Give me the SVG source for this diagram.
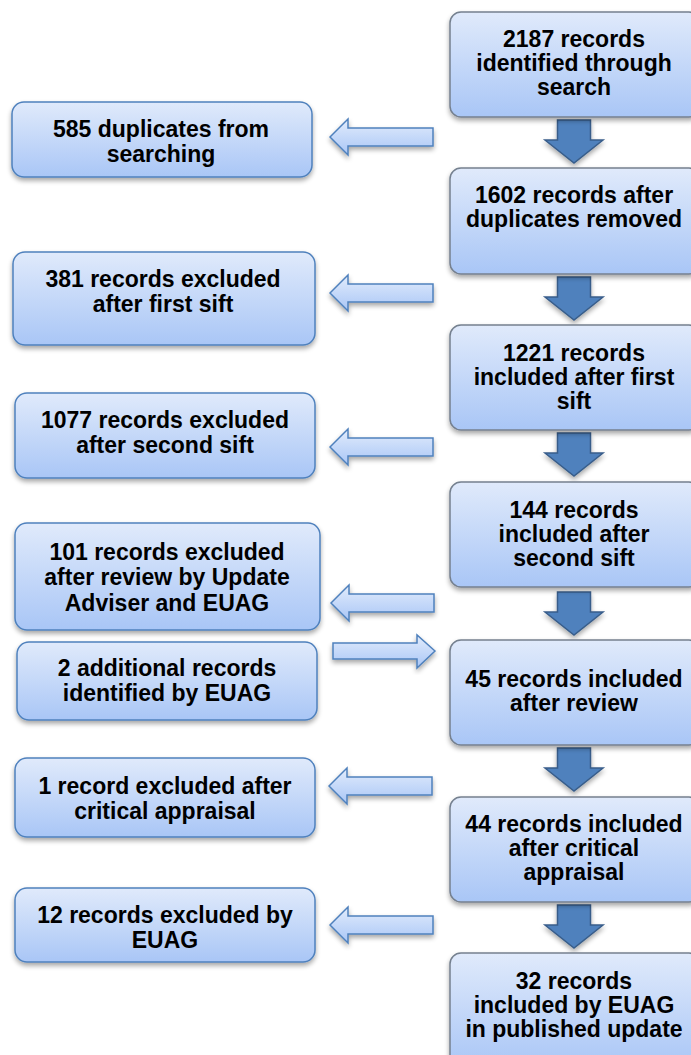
<svg xmlns="http://www.w3.org/2000/svg" width="691" height="1055" viewBox="0 0 691 1055">
<defs>
<linearGradient id="gbox" x1="0" y1="0" x2="0" y2="1">
<stop offset="0" stop-color="#e0eafb"/>
<stop offset="1" stop-color="#a9c6f6"/>
</linearGradient>
<linearGradient id="garrow" x1="0" y1="0" x2="0" y2="1">
<stop offset="0" stop-color="#e2ecfc"/>
<stop offset="1" stop-color="#a9c6f6"/>
</linearGradient>
<filter id="sh" x="-10%" y="-10%" width="120%" height="130%">
<feGaussianBlur in="SourceAlpha" stdDeviation="2.5"/>
<feOffset dx="0" dy="3" result="b"/>
<feComponentTransfer><feFuncA type="linear" slope="0.35"/></feComponentTransfer>
<feMerge><feMergeNode/><feMergeNode in="SourceGraphic"/></feMerge>
</filter>
<path id="larrow" d="M0,0 L18,-18 L18,-9 L103,-9 L103,9 L18,9 L18,18 Z"/>
<path id="darrow" d="M-16.5,0 L16.5,0 L16.5,20 L29,20 L0,43 L-29,20 L-16.5,20 Z"/>
</defs>
<style>
.rb{fill:url(#gbox);stroke:#75808f;stroke-width:1.5;filter:url(#sh)}
.lb{fill:url(#gbox);stroke:#4f81bd;stroke-width:1.5;filter:url(#sh)}
.t{font-family:"Liberation Sans",Arial,sans-serif;font-weight:bold;font-size:23px;fill:#000;text-anchor:middle}
.la{fill:url(#garrow);stroke:#4f81bd;stroke-width:1.5;filter:url(#sh)}
.da{fill:#4f81bd;stroke:#385d8a;stroke-width:1.5;filter:url(#sh)}
</style>
<rect width="691" height="1055" fill="#ffffff"/>

<g id="connectors">
<use href="#darrow" class="da" x="574" y="120"/>
<use href="#darrow" class="da" x="574" y="277"/>
<use href="#darrow" class="da" x="574" y="433"/>
<use href="#darrow" class="da" x="574" y="592"/>
<use href="#darrow" class="da" x="574" y="748"/>
<use href="#darrow" class="da" x="574" y="905"/>
<use href="#larrow" class="la" x="330" y="137"/>
<use href="#larrow" class="la" x="330" y="293"/>
<use href="#larrow" class="la" x="330" y="447"/>
<use href="#larrow" class="la" x="331" y="603"/>
<use href="#larrow" class="la" x="329" y="786"/>
<use href="#larrow" class="la" x="330" y="925"/>
<path class="la" d="M435,651 L417,635 L417,643 L333,643 L333,659 L417,659 L417,668 Z"/>
</g>

<g id="n1">
<rect class="rb" x="450" y="12" width="250" height="105" rx="11"/>
<text class="t" x="574" y="47">2187 records</text>
<text class="t" x="574" y="71">identified through</text>
<text class="t" x="574" y="95">search</text>
</g>
<g id="n2">
<rect class="rb" x="450" y="168" width="250" height="106" rx="11"/>
<text class="t" x="574" y="203">1602 records after</text>
<text class="t" x="574" y="227">duplicates removed</text>
</g>
<g id="n3">
<rect class="rb" x="450" y="325" width="250" height="105" rx="11"/>
<text class="t" x="574" y="361">1221 records</text>
<text class="t" x="574" y="385">included after first</text>
<text class="t" x="574" y="409">sift</text>
</g>
<g id="n4">
<rect class="rb" x="450" y="482" width="250" height="105" rx="11"/>
<text class="t" x="574" y="518">144 records</text>
<text class="t" x="574" y="542">included after</text>
<text class="t" x="574" y="566">second sift</text>
</g>
<g id="n5">
<rect class="rb" x="450" y="640" width="250" height="105" rx="11"/>
<text class="t" x="574" y="687">45 records included</text>
<text class="t" x="574" y="711">after review</text>
</g>
<g id="n6">
<rect class="rb" x="450" y="797" width="250" height="105" rx="11"/>
<text class="t" x="574" y="832">44 records included</text>
<text class="t" x="574" y="856">after critical</text>
<text class="t" x="574" y="880">appraisal</text>
</g>
<g id="n7">
<rect class="rb" x="450" y="953" width="250" height="115" rx="11"/>
<text class="t" x="574" y="989">32 records</text>
<text class="t" x="574" y="1013">included by EUAG</text>
<text class="t" x="574" y="1037">in published update</text>
</g>

<g id="l1">
<rect class="lb" x="12" y="102" width="300" height="75" rx="12"/>
<text class="t" x="161" y="137">585 duplicates from</text>
<text class="t" x="161" y="162">searching</text>
</g>
<g id="l2">
<rect class="lb" x="13" y="252" width="302" height="93" rx="12"/>
<text class="t" x="163" y="287">381 records excluded</text>
<text class="t" x="163" y="312">after first sift</text>
</g>
<g id="l3">
<rect class="lb" x="15" y="393" width="300" height="85" rx="12"/>
<text class="t" x="165" y="428">1077 records excluded</text>
<text class="t" x="165" y="453">after second sift</text>
</g>
<g id="l4">
<rect class="lb" x="15" y="523" width="305" height="107" rx="12"/>
<text class="t" x="167" y="560">101 records excluded</text>
<text class="t" x="167" y="585">after review by Update</text>
<text class="t" x="167" y="611">Adviser and EUAG</text>
</g>
<g id="l5">
<rect class="lb" x="17" y="642" width="300" height="78" rx="12"/>
<text class="t" x="167" y="676">2 additional records</text>
<text class="t" x="167" y="701">identified by EUAG</text>
</g>
<g id="l6">
<rect class="lb" x="15" y="758" width="300" height="79" rx="12"/>
<text class="t" x="165" y="794">1 record excluded after</text>
<text class="t" x="165" y="819">critical appraisal</text>
</g>
<g id="l7">
<rect class="lb" x="15" y="888" width="300" height="74" rx="12"/>
<text class="t" x="165" y="923">12 records excluded by</text>
<text class="t" x="165" y="948">EUAG</text>
</g>
</svg>
